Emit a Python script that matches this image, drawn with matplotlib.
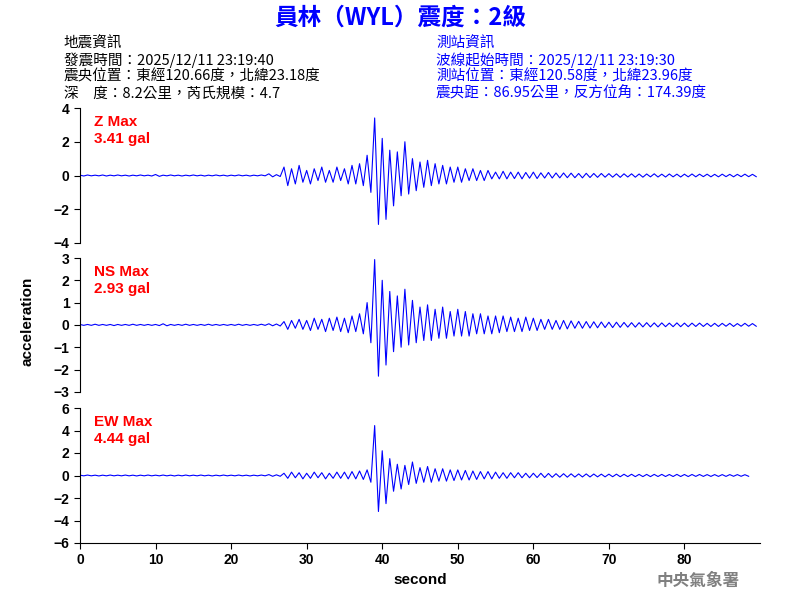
import numpy as np
import matplotlib
matplotlib.use("Agg")
import matplotlib.pyplot as plt
plt.rcParams['font.family'] = ['Liberation Sans', 'Noto Sans CJK TC', 'DejaVu Sans']

z_vals = [0.02,-0.03,0.03,-0.02,0.02,-0.02,0.03,-0.03,0.02,-0.02,0.03,-0.02,0.02,-0.03,0.02,-0.02,0.03,-0.02,0.02,-0.03,
          0.06,-0.05,0.02,-0.02,0.03,-0.02,0.02,-0.03,0.02,-0.02,0.03,-0.02,0.02,-0.03,0.02,-0.02,0.03,-0.02,0.02,-0.03,
          0.02,-0.02,0.03,-0.02,0.02,-0.03,0.02,-0.02,0.03,-0.02,0.10,-0.08,
          0.05,-0.06,
          0.5,-0.6,0.4,-0.5,0.6,-0.4,0.3,-0.5,0.4,-0.3,0.5,-0.4,0.3,-0.4,0.5,-0.3,0.4,-0.5,0.6,-0.5,0.7,-0.6,
          1.2,-1.0,3.41,-2.9,2.2,-2.6,1.5,-1.8,1.4,-1.2,2.0,-1.1,1.0,-0.9,
          0.8,-0.7,0.9,-0.6,0.7,-0.5,0.6,-0.5,0.5,-0.4,0.5,-0.4,0.4,-0.3,0.4,-0.3,0.3,-0.3,0.3,-0.2,
          0.2,-0.2,0.25,-0.2,0.2,-0.18,0.2,-0.2,0.18,-0.16,0.2,-0.18,0.16,-0.15,0.18,-0.15,0.15,-0.14,0.15,-0.13,
          0.14,-0.13,0.12,-0.14,0.13,-0.12,0.12,-0.11,0.12,-0.1,0.11,-0.1,0.1,-0.11,0.1,-0.09,0.1,-0.1,0.09,-0.1,
          0.09,-0.08,0.1,-0.09,0.08,-0.09,0.09,-0.08,0.08,-0.09,0.08,-0.08,0.09,-0.08,0.08,-0.07,0.08,-0.08,0.07,-0.08,
          0.08,-0.07,0.07,-0.08,0.07,-0.07,0.08,-0.07,0.07,-0.07]
ns_vals = [0.02,-0.02,0.02,-0.02,0.03,-0.02,0.02,-0.02,0.02,-0.03,0.02,-0.02,0.02,-0.02,0.03,-0.02,0.02,-0.02,0.02,-0.02,
           0.02,-0.03,0.05,-0.04,0.02,-0.02,0.02,-0.02,0.03,-0.02,0.02,-0.02,0.02,-0.02,0.03,-0.02,0.02,-0.02,0.02,-0.02,
           0.02,-0.02,0.03,-0.02,0.02,-0.02,0.02,-0.02,0.03,-0.02,0.05,-0.04,
           0.04,-0.05,
           0.15,-0.2,0.2,-0.15,0.25,-0.2,0.2,-0.25,0.3,-0.2,0.25,-0.3,0.3,-0.25,0.35,-0.3,0.3,-0.35,0.4,-0.3,0.5,-0.4,
           1.0,-0.8,2.93,-2.3,2.0,-1.8,1.5,-1.2,1.3,-1.0,1.6,-0.9,1.1,-0.8,
           0.8,-0.7,0.9,-0.7,0.7,-0.6,0.8,-0.6,0.6,-0.5,0.7,-0.5,0.6,-0.5,0.5,-0.4,0.5,-0.4,0.4,-0.4,
           0.4,-0.35,0.4,-0.3,0.35,-0.3,0.3,-0.3,0.35,-0.25,0.3,-0.25,0.25,-0.2,0.25,-0.2,0.2,-0.2,0.2,-0.18,
           0.18,-0.15,0.16,-0.15,0.15,-0.14,0.14,-0.13,0.13,-0.12,0.12,-0.12,0.12,-0.11,0.11,-0.1,0.1,-0.1,0.1,-0.09,
           0.1,-0.09,0.09,-0.09,0.09,-0.08,0.08,-0.08,0.09,-0.08,0.08,-0.08,0.08,-0.07,0.08,-0.07,0.07,-0.07,0.07,-0.07,
           0.07,-0.06,0.07,-0.07,0.06,-0.06,0.07,-0.06,0.06,-0.06]
ew_vals = [0.03,-0.03,0.04,-0.03,0.03,-0.04,0.03,-0.03,0.04,-0.03,0.03,-0.03,0.04,-0.03,0.03,-0.04,0.03,-0.03,0.04,-0.03,
           0.03,-0.03,0.04,-0.03,0.03,-0.04,0.03,-0.03,0.04,-0.03,0.03,-0.03,0.04,-0.03,0.03,-0.04,0.03,-0.03,0.04,-0.03,
           0.03,-0.03,0.04,-0.03,0.03,-0.04,0.03,-0.03,0.04,-0.03,0.08,-0.07,
           0.06,-0.07,
           0.2,-0.25,0.3,-0.2,0.25,-0.3,0.2,-0.25,0.3,-0.2,0.25,-0.3,0.2,-0.25,0.3,-0.25,0.3,-0.3,0.35,-0.3,0.4,-0.35,
           0.5,-0.6,
           4.44,-3.2,2.2,-2.5,1.5,-1.4,1.0,-1.2,0.9,-0.8,1.2,-0.7,
           0.7,-0.6,0.8,-0.6,0.6,-0.5,0.6,-0.5,0.5,-0.45,0.5,-0.4,0.45,-0.4,0.4,-0.35,0.35,-0.3,0.35,-0.3,
           0.3,-0.25,0.25,-0.25,0.25,-0.2,0.25,-0.2,0.2,-0.2,0.2,-0.18,0.2,-0.18,0.18,-0.16,0.16,-0.15,0.16,-0.15,
           0.15,-0.14,0.14,-0.13,0.14,-0.13,0.13,-0.12,0.12,-0.12,0.12,-0.11,0.12,-0.11,0.11,-0.1,0.11,-0.1,0.1,-0.1,
           0.1,-0.1,0.1,-0.09,0.1,-0.09,0.09,-0.09,0.1,-0.09,0.09,-0.09,0.09,-0.08,0.09,-0.08,0.08,-0.08,0.08,-0.08,
           0.08,-0.08,0.08,-0.07,0.08,-0.07,0.07,-0.07]
dt = 0.5
labels = ["Z Max\n3.41 gal", "NS Max\n2.93 gal", "EW Max\n4.44 gal"]
ylims = [(-4, 4, 2), (-3, 3, 1), (-6, 6, 2)]

fig = plt.figure(figsize=(8, 6), dpi=100)
rects = [(0.1, 0.595, 0.85, 0.225), (0.1, 0.347, 0.85, 0.223), (0.1, 0.095, 0.85, 0.225)]
for i, (vals, lab, (lo, hi, st), r) in enumerate(zip([z_vals, ns_vals, ew_vals], labels, ylims, rects)):
    ax = fig.add_axes(r)
    t = np.arange(len(vals)) * dt
    ax.plot(t, vals, color='blue', lw=0.8)
    ax.set_xlim(0, 90)
    ax.set_ylim(lo, hi)
    ax.set_yticks(np.arange(lo, hi + 0.1, st))
    ax.spines['top'].set_visible(False)
    ax.spines['right'].set_visible(False)
    ax.tick_params(labelsize=10, length=4)
    for l in ax.get_yticklabels():
        l.set_fontweight('bold')
    if i < 2:
        ax.spines['bottom'].set_visible(False)
        ax.set_xticks([])
    else:
        ax.set_xticks(range(0, 90, 10))
        for l in ax.get_xticklabels():
            l.set_fontweight('bold')
        ax.set_xlabel('second', fontsize=11, fontweight='bold')
    ax.text(0.02, 0.95, lab, transform=ax.transAxes, color='red', fontsize=11,
            fontweight='bold', va='top', linespacing=1.3)

cjk = ['Noto Sans CJK TC', 'DejaVu Sans']
fig.text(0.035, 0.465, 'acceleration', rotation=90, va='center', ha='center', fontsize=11, fontweight='bold')
fig.text(0.5, 0.97, '員林（WYL）震度：2級', color='blue', fontsize=17, fontweight='bold', ha='center', va='center', family=cjk)
left = ['地震資訊', '發震時間：2025/12/11 23:19:40', '震央位置：東經120.66度，北緯23.18度', '深　度：8.2公里，芮氏規模：4.7']
right = ['測站資訊', '波線起始時間：2025/12/11 23:19:30', '測站位置：東經120.58度，北緯23.96度', '震央距：86.95公里，反方位角：174.39度']
for k, (a, b) in enumerate(zip(left, right)):
    y = 0.927 - k * 0.0275
    fig.text(0.08, y, a, fontsize=10.5, va='center', family=cjk)
    fig.text(0.545, y, b, fontsize=10.5, va='center', color='blue', family=cjk)
fig.text(0.82, 0.032, '中央氣象署', color='gray', fontsize=12, fontweight='bold', va='center', family=cjk)
fig.savefig('out.png', dpi=100)
